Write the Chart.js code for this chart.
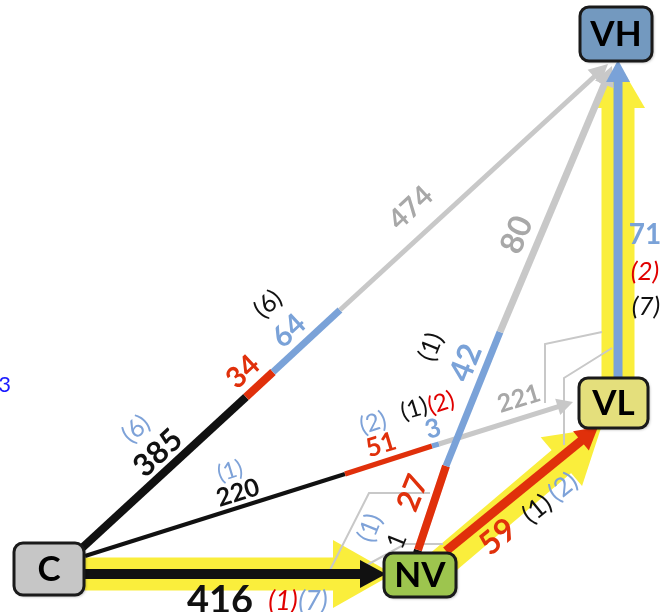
<!DOCTYPE html>
<html lang="en">
<head>
<meta charset="UTF-8">
<title>Flows C / NV / VL / VH</title>
<script src="https://cdn.jsdelivr.net/npm/chart.js"></script>
<style>
  html, body { margin: 0; padding: 0; background: #fff; }
  #wrap { position: relative; width: 671px; height: 612px; }
</style>
</head>
<body>
<div id="wrap"><canvas id="flowChart"></canvas></div>
<script>
// nodes
const nodeNames = ['C', 'NV', 'VL', 'VH'];
const nodeX = [49, 420, 613.5, 616];
const nodeY = [569, 575, 403, 34];

// flow paths (break points where the colour changes)
const pathCtoVH = [[82, 548], [246, 397], [273, 372], [340, 310], [608, 64]];
const pathCtoVL = [[85, 556], [345, 474], [432, 446], [439, 444], [573, 402]];
const pathNVtoVH = [[417, 553], [418, 550], [446, 466], [500, 332], [612, 66]];
const pathCtoNV = [[85, 574], [386, 574]];
const pathNVtoVL = [[446, 551], [598, 427]];
const pathVLtoVH = [[618.5, 378], [618, 60]];

// main yellow routes
const bandCtoNV = [[85, 574], [393, 574]];
const bandNVtoVL = [[436, 568], [601, 428]];
const bandVLtoVH = [[618, 380], [618, 62]];

// thin grey guides
const guideLines = [
  [[545, 403], [545, 344], [602, 332]],
  [[564, 445], [564, 378], [612, 348]],
  [[330, 570], [369, 493], [430, 493]],
  [[365, 566], [405, 544], [443, 544]]
];

// flow values and counts in brackets
const labelText = [
  '(6)', '385', '34', '64', '(6)', '474',
  '(1)', '220', '(2)', '51', '(1)', '(2)', '3', '221',
  '27', '1', '(1)', '42', '(1)', '80',
  '59', '(1)', '(2)',
  '71', '(2)', '(7)',
  '416', '(1)', '(7)',
  '3'
];

const palette = {
  k: '#111111', r: '#e0300b', b: '#7aa2d8', g: '#c8c8c8',
  gt: '#a8a8a8', lb: '#7ea2d8', ri: '#e00000', pb: '#1a1aff', y: '#faee3c'
};
const nodeFill = ['#c6c6c6', '#9dc54e', '#e4df7c', '#7399bf'];
const nodeSize = [[70, 52], [72, 44], [69, 50], [72, 54]];

// x, y, angle, colour, size, style
const labelLayout = [
  [136, 429, -43, 'lb', 25, ''], [158, 453, -43, 'k', 31, 'bold'], [243, 372, -43, 'r', 29, 'bold'],
  [289, 331, -43, 'b', 29, 'bold'], [268, 304, -43, 'k', 25, ''], [411, 208, -43, 'gt', 28, 'bold'],
  [230, 471, -17, 'lb', 23, ''], [238, 493, -17, 'k', 25, 'bold'], [373, 423, -17, 'lb', 24, ''],
  [381, 445, -17, 'r', 26, 'bold'], [414, 409, -17, 'k', 24, ''], [441, 403, -17, 'ri', 24, ''],
  [433, 429, -17, 'b', 26, 'bold'], [519, 399, -17, 'gt', 25, 'bold'],
  [413, 493, -68, 'r', 31, 'bold'], [397, 541, -68, 'k', 25, ''], [370, 528, -68, 'lb', 25, ''],
  [466, 363, -68, 'b', 32, 'bold'], [431, 347, -68, 'k', 25, ''], [517, 235, -68, 'gt', 32, 'bold'],
  [498, 537, -39, 'r', 32, 'bold'], [537, 509, -39, 'k', 26, ''], [563, 487, -39, 'lb', 26, ''],
  [645, 235, 0, 'b', 28, 'bold'], [645, 272, 0, 'ri', 26, 'italic'], [646, 307, 0, 'k', 26, 'italic'],
  [220, 601, 0, 'k', 38, 'bold'], [283, 601, 0, 'ri', 27, 'italic'], [313, 601, 0, 'lb', 27, 'italic'],
  [3, 385, 0, 'pb', 22, '']
];

const FONT = "Lato, 'Open Sans', sans-serif";

// colour / width of every piece, arrow head size
const flows = [
  { pts: pathCtoVL, cols: ['k', 'r', 'b', 'g'], widths: [4, 5, 5, 5], head: [16, 17] },
  { pts: pathCtoVH, cols: ['k', 'r', 'b', 'g'], widths: [8, 8, 7, 5], head: [19, 19] },
  { pts: pathCtoNV, cols: ['k'], widths: [10], head: [26, 28] },
  { pts: pathNVtoVL, cols: ['r'], widths: [9], head: [22, 25] },
  { pts: pathNVtoVH, cols: ['k', 'r', 'b', 'g'], widths: [8, 8, 7, 7], head: [20, 20] },
  { pts: pathVLtoVH, cols: ['b'], widths: [9], head: [22, 24] }
];
const bands = [
  { pts: bandCtoNV, width: 33, head: [60, 68] },
  { pts: bandNVtoVL, width: 30, head: [52, 64] },
  { pts: bandVLtoVH, width: 33, head: [46, 54] }
];

function shorten(a, b, d) {
  const dx = b[0] - a[0], dy = b[1] - a[1];
  const l = Math.hypot(dx, dy);
  return [b[0] - dx / l * d, b[1] - dy / l * d];
}

const layers = [];   // bottom to top
bands.forEach(bd => {
  const a = bd.pts[0], b = shorten(bd.pts[0], bd.pts[1], bd.head[0] * 0.9);
  layers.push({ data: [{ x: a[0], y: a[1] }, { x: b[0], y: b[1] }], borderColor: palette.y, borderWidth: bd.width });
});
guideLines.forEach(g => {
  layers.push({ data: g.map(p => ({ x: p[0], y: p[1] })), borderColor: palette.g, borderWidth: 2 });
});
flows.forEach(f => {
  for (let i = 0; i < f.pts.length - 1; i++) {
    const a = f.pts[i];
    let b = f.pts[i + 1];
    if (i === f.pts.length - 2) b = shorten(a, b, f.head[0] * 0.7);
    layers.push({ data: [{ x: a[0], y: a[1] }, { x: b[0], y: b[1] }], borderColor: palette[f.cols[i]], borderWidth: f.widths[i] });
  }
});

const datasets = layers.reverse().map(d => Object.assign(d, {
  showLine: true, pointRadius: 0, borderCapStyle: 'butt', borderJoinStyle: 'miter', fill: false, clip: false
}));

function drawHead(chart, from, tip, len, wid, color) {
  const x = chart.scales.x, y = chart.scales.y;
  const fx = x.getPixelForValue(from[0]), fy = y.getPixelForValue(from[1]);
  const tx = x.getPixelForValue(tip[0]), ty = y.getPixelForValue(tip[1]);
  const ang = Math.atan2(ty - fy, tx - fx);
  const ctx = chart.ctx;
  ctx.save();
  ctx.translate(tx, ty);
  ctx.rotate(ang);
  ctx.beginPath();
  ctx.moveTo(0, 0);
  ctx.lineTo(-len, -wid / 2);
  ctx.lineTo(-len, wid / 2);
  ctx.closePath();
  ctx.fillStyle = color;
  ctx.fill();
  ctx.restore();
}

function roundRect(ctx, x, y, w, h, r) {
  ctx.beginPath();
  ctx.moveTo(x + r, y);
  ctx.arcTo(x + w, y, x + w, y + h, r);
  ctx.arcTo(x + w, y + h, x, y + h, r);
  ctx.arcTo(x, y + h, x, y, r);
  ctx.arcTo(x, y, x + w, y, r);
  ctx.closePath();
}

const diagramPlugin = {
  id: 'diagram',
  beforeDatasetsDraw(chart) {
    bands.forEach(bd => drawHead(chart, bd.pts[0], bd.pts[1], bd.head[0], bd.head[1], palette.y));
  },
  afterDatasetsDraw(chart) {
    const ctx = chart.ctx, sx = chart.scales.x, sy = chart.scales.y;
    flows.forEach(f => {
      const n = f.pts.length;
      drawHead(chart, f.pts[n - 2], f.pts[n - 1], f.head[0], f.head[1], palette[f.cols[n - 2]]);
    });

    // node boxes
    nodeNames.forEach((name, i) => {
      const cx = sx.getPixelForValue(nodeX[i]), cy = sy.getPixelForValue(nodeY[i]);
      const w = nodeSize[i][0], h = nodeSize[i][1];
      ctx.save();
      ctx.shadowColor = 'rgba(0,0,0,0.35)';
      ctx.shadowBlur = 3;
      ctx.shadowOffsetX = 1.5;
      ctx.shadowOffsetY = 1.5;
      roundRect(ctx, cx - w / 2, cy - h / 2, w, h, 9);
      ctx.fillStyle = nodeFill[i];
      ctx.fill();
      ctx.shadowColor = 'transparent';
      ctx.lineWidth = 3;
      ctx.strokeStyle = '#1a1a1a';
      ctx.stroke();
      ctx.fillStyle = '#000';
      ctx.font = 'bold 35px ' + FONT;
      ctx.textAlign = 'center';
      ctx.textBaseline = 'middle';
      ctx.fillText(name, cx, cy + 1);
      ctx.restore();
    });

    // labels
    labelText.forEach((t, i) => {
      const [lx, ly, ang, col, size, style] = labelLayout[i];
      const last = i === labelText.length - 1;
      ctx.save();
      ctx.translate(sx.getPixelForValue(lx), sy.getPixelForValue(ly));
      ctx.rotate(ang * Math.PI / 180);
      ctx.font = style + ' ' + size + 'px ' + FONT;
      ctx.fillStyle = palette[col];
      ctx.textAlign = last ? 'right' : 'center';
      ctx.textBaseline = 'middle';
      ctx.fillText(t, last ? 8 : 0, 0);
      ctx.restore();
    });
  }
};

new Chart(document.getElementById('flowChart').getContext('2d'), {
  type: 'scatter',
  data: { datasets: datasets },
  options: {
    responsive: true,
    maintainAspectRatio: false,
    animation: false,
    layout: { padding: 0 },
    scales: {
      x: { type: 'linear', min: 0, max: 671, display: false },
      y: { type: 'linear', min: 0, max: 612, reverse: true, display: false }
    },
    plugins: { legend: { display: false }, tooltip: { enabled: false } }
  },
  plugins: [diagramPlugin]
});
</script>
</body>
</html>
